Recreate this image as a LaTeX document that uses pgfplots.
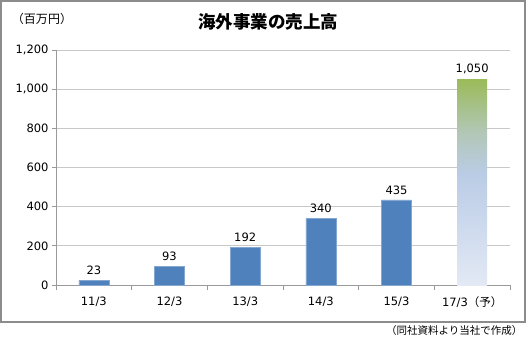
\documentclass[border=0pt]{standalone}
\usepackage{pgfplots}
\pgfplotsset{compat=1.18}
\usepackage{fontspec}
\setmainfont{DejaVu Sans}
\newfontfamily\cjk{Noto Sans CJK JP}
\definecolor{barblue}{HTML}{4F81BD}
\definecolor{framegray}{HTML}{8C8C8C}
\definecolor{gridgray}{HTML}{C8C8C8}
\definecolor{axisgray}{HTML}{9A9A9A}
\pgfdeclareverticalshading{barshade}{100bp}{%
  rgb(0bp)=(0.89,0.915,0.96);
  rgb(25bp)=(0.89,0.915,0.96);
  rgb(40bp)=(0.80,0.85,0.93);
  rgb(52bp)=(0.73,0.80,0.90);
  rgb(62bp)=(0.70,0.78,0.72);
  rgb(75bp)=(0.608,0.733,0.349);
  rgb(100bp)=(0.608,0.733,0.349)}
\begin{document}
\begin{tikzpicture}[x=1pt,y=1pt]
\useasboundingbox (0,0) rectangle (527,338);
\draw[framegray, line width=1.2pt] (1,16) rectangle (525,337);
\begin{axis}[
  at={(56pt,53pt)}, anchor=south west,
  scale only axis, width=454pt, height=235pt,
  xmin=-0.5, xmax=5.5, ymin=0, ymax=1200,
  ytick={0,200,...,1200},
  ymajorgrids, grid style={gridgray, line width=0.8pt},
  xtick={0,...,5},
  xticklabels={11/3,12/3,13/3,14/3,15/3,{17/3\cjk（予）}},
  minor xtick={-0.5,0.5,...,5.5},
  major x tick style={draw=none},
  minor x tick style={axisgray, line width=0.8pt},
  y tick style={axisgray, line width=0.8pt},
  tick align=outside,
  major tick length=4pt, minor tick length=5pt,
  axis x line*=bottom, axis y line*=left,
  axis line style={axisgray, line width=0.8pt},
  /pgf/number format/assume math mode=true,
  /pgf/number format/1000 sep={,},
  tick label style={font=\fontsize{11.5}{13}\selectfont, black},
  x tick label style={yshift=-4pt},
  ybar, bar width=30pt, bar shift=0pt,
  nodes near coords,
  every node near coord/.append style={font=\fontsize{11.5}{13}\selectfont, black, yshift=2pt},
]
\addplot[fill=barblue, draw=barblue!70!white, line width=0.6pt] coordinates {(0,23) (1,93) (2,192) (3,340) (4,435)};
\addplot[draw=none, shading=barshade] coordinates {(5,1050)};
\end{axis}
\node[font=\cjk\fontsize{12}{14}\selectfont] at (42,319) {（百万円）};
\node[font=\cjk\bfseries\fontsize{17.5}{20}\selectfont] at (268,316) {海外事業の売上高};
\node[font=\cjk\fontsize{10.5}{12}\selectfont, anchor=east] at (526,7) {（同社資料より当社で作成）};
\end{tikzpicture}
\end{document}
